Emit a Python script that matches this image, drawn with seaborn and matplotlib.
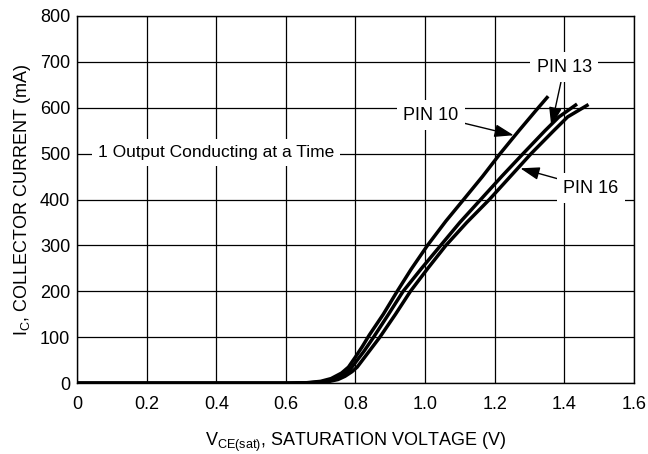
import matplotlib
matplotlib.use("Agg")
import matplotlib.pyplot as plt
import seaborn as sns
import pandas as pd

# ---- data ----
pin10_v = [0.0, 0.60, 0.66, 0.70, 0.73, 0.76, 0.78, 0.80, 0.82, 0.84, 0.88, 0.92, 0.96, 1.007, 1.06, 1.111, 1.165, 1.216, 1.27, 1.32, 1.354]
pin10_i = [0, 0, 1, 4, 10, 22, 35, 57, 80, 105, 150, 200, 248, 300, 353, 400, 450, 500, 550, 595, 625]

pin13_v = [0.0, 0.61, 0.67, 0.71, 0.74, 0.765, 0.785, 0.80, 0.825, 0.852, 0.895, 0.937, 0.99, 1.045, 1.10, 1.16, 1.22, 1.282, 1.345, 1.385, 1.437]
pin13_i = [0, 0, 1, 3, 8, 18, 30, 45, 70, 100, 150, 200, 250, 300, 350, 400, 450, 500, 550, 580, 608]

pin16_v = [0.0, 0.62, 0.68, 0.72, 0.75, 0.77, 0.79, 0.805, 0.83, 0.87, 0.915, 0.958, 1.008, 1.06, 1.12, 1.185, 1.245, 1.305, 1.37, 1.41, 1.47]
pin16_i = [0, 0, 1, 3, 8, 15, 25, 35, 60, 100, 150, 200, 250, 300, 350, 400, 450, 500, 550, 580, 607]

x_ticks = [0, 0.2, 0.4, 0.6, 0.8, 1.0, 1.2, 1.4, 1.6]
x_tick_labels = ["0", "0.2", "0.4", "0.6", "0.8", "1.0", "1.2", "1.4", "1.6"]
y_ticks = [0, 100, 200, 300, 400, 500, 600, 700, 800]
y_tick_labels = ["0", "100", "200", "300", "400", "500", "600", "700", "800"]

series = ["PIN 10", "PIN 13", "PIN 16"]

frames = []
for name, v, i in zip(series, [pin10_v, pin13_v, pin16_v], [pin10_i, pin13_i, pin16_i]):
    frames.append(pd.DataFrame({"V": v, "I": i, "pin": name}))
df = pd.concat(frames, ignore_index=True)

sns.set_theme(style="white")
fam = "Liberation Sans"
plt.rcParams["font.family"] = [fam, "DejaVu Sans"]
plt.rcParams["mathtext.fontset"] = "custom"
plt.rcParams["mathtext.rm"] = fam
plt.rcParams["text.color"] = "black"
plt.rcParams["axes.labelcolor"] = "black"
plt.rcParams["xtick.color"] = "black"
plt.rcParams["ytick.color"] = "black"

fig = plt.figure(figsize=(6.48, 4.54), dpi=100)
ax = fig.add_axes([0.119, 0.156, 0.859, 0.809])

sns.lineplot(data=df, x="V", y="I", hue="pin", units="pin", estimator=None, sort=False,
             palette=["black"] * 3, linewidth=2.5, legend=False, ax=ax,
             solid_capstyle="butt", solid_joinstyle="round")

ax.set_xlim(0, 1.6)
ax.set_ylim(0, 800)
ax.set_xticks(x_ticks)
ax.set_xticklabels(x_tick_labels)
ax.set_yticks(y_ticks)
ax.set_yticklabels(y_tick_labels)
ax.grid(True, color="black", linewidth=0.9)
ax.set_axisbelow(True)
for s in ax.spines.values():
    s.set_color("black")
    s.set_linewidth(1.0)
ax.tick_params(axis="both", length=0, labelsize=13, colors="black", pad=5)
ax.tick_params(axis="x", pad=9)

ax.set_xlabel(r"V$_\mathregular{CE(sat)}$, SATURATION VOLTAGE (V)", fontsize=13, color="black", labelpad=13)
ax.set_ylabel(r"I$_\mathregular{C}$, COLLECTOR CURRENT (mA)", fontsize=13, color="black", labelpad=5)

box = dict(boxstyle="square,pad=0.35", fc="white", ec="none")
arrow = dict(arrowstyle="-|>,head_length=0.9,head_width=0.3", color="black", lw=1.0, shrinkA=0, shrinkB=0)

ax.text(0.40, 503, "1 Output Conducting at a Time", fontsize=12.5, ha="center", va="center", bbox=box, zorder=3)
ax.annotate("PIN 10", xy=(1.255, 540), xytext=(1.016, 584), fontsize=13, ha="center", va="center",
            bbox=box, arrowprops=arrow, zorder=3)
ax.annotate("PIN 13", xy=(1.363, 559), xytext=(1.40, 688), fontsize=13, ha="center", va="center",
            bbox=box, arrowprops=arrow, zorder=3)
ax.annotate("PIN 16", xy=(1.274, 468), xytext=(1.477, 425), fontsize=13, ha="center", va="center",
            bbox=box, arrowprops=arrow, zorder=3)

fig.savefig("out.png", dpi=100, facecolor="white")
